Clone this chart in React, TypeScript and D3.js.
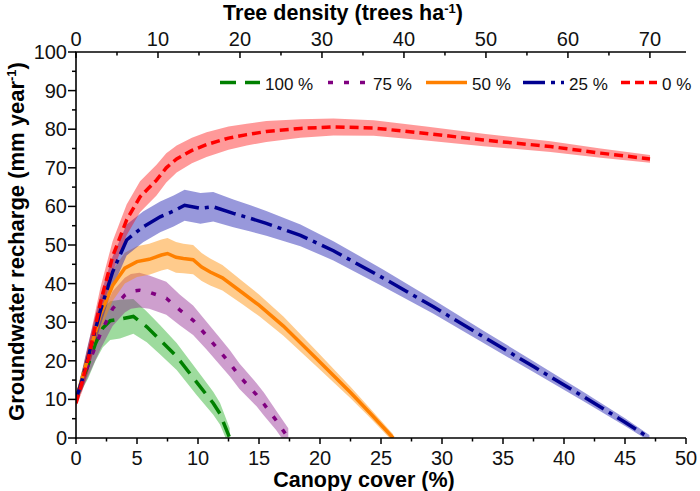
import React from "react";
import * as d3 from "d3";

// ---------- data ----------
const coverG = [0, 0.5, 1, 1.6, 2.2, 2.8, 3.6, 4.7, 5.8, 6.9, 8.25, 9.9, 11.25, 11.8, 12.6];
const valG = [10, 15, 19, 24.5, 28.5, 30.4, 30.8, 31.5, 28.8, 25.4, 21.1, 14.4, 9, 6.3, 0];
const errG = [1, 2.5, 3.5, 4.5, 5, 5, 5, 4.5, 4, 3.8, 3.5, 3.3, 3, 2.8, 2.5];

const coverP = [0, 0.5, 1, 2, 3, 4, 4.5, 5.2, 6, 7.4, 8.5, 9.6, 10.7, 11.8, 12.6, 13.4, 14.8, 15.4, 16.4, 17.4];
const valP = [10, 14.5, 19, 27, 33.5, 37, 38, 38.3, 37.8, 36.2, 33.2, 30.5, 26.5, 22.4, 19.4, 16, 11.2, 8.8, 4.6, 0];
const errP = [1, 2, 3, 4, 4.5, 4.5, 4.5, 4.5, 4.3, 4.3, 4, 3.8, 3.6, 3.5, 3.4, 3.3, 3, 3, 2.5, 2.5];

const coverO = [0, 0.5, 1, 2, 3, 4, 5, 6, 7, 7.5, 8.2, 8.8, 9.6, 10.3, 11, 12, 13.7, 15, 17, 19.7, 22.5, 24, 26];
const valO = [10, 15.5, 21, 32, 39.5, 44, 45.7, 46.3, 47.4, 47.8, 46.8, 46.5, 46.2, 44.3, 43, 41.5, 37.5, 34.4, 29, 20.6, 11.8, 6.8, 0];
const errO = [1, 2, 3, 4, 4, 4, 4, 4, 4, 4, 4, 3.8, 3.8, 3.6, 3.5, 3.3, 3, 2.8, 2.5, 2, 1.5, 1.2, 1];

const coverB = [0, 0.5, 1, 2, 3, 4.15, 5.5, 6.9, 8, 8.9, 10.2, 11.25, 12.9, 14.3, 15.6, 18.4, 21.1, 25.2, 29.3, 33.4, 37.5, 41.6, 45, 47];
const valB = [10, 15, 21, 33, 43, 51.3, 54.7, 57.3, 58.8, 60.3, 59.5, 59.9, 58.2, 56.9, 55.6, 52.5, 48.5, 41.4, 34, 26.2, 18.5, 10.7, 4.1, 0];
const errB = [1, 2.5, 3.5, 4, 4, 4, 4, 4, 4, 4, 4, 3.8, 3.6, 3.4, 3.2, 2.8, 2.5, 2.2, 1.8, 1.6, 1.4, 1.2, 1, 0.8];

const coverR = [0, 0.5, 1, 2, 3, 4.15, 5.25, 6.6, 7.4, 8.25, 9.5, 10.7, 12.5, 14, 15.6, 18.4, 21.1, 24.4, 28.7, 33.4, 38.9, 43, 47.05];
const valR = [9, 14.5, 20.5, 35, 47, 56.5, 62.5, 66.8, 70, 72.3, 74.5, 76, 77.7, 78.6, 79.4, 80.2, 80.6, 80.3, 78.9, 77.2, 75.5, 73.8, 72.3];
const errR = [1, 2.5, 3.5, 4, 4, 4, 4, 4, 3.8, 3.5, 3.3, 3.2, 3, 2.8, 2.7, 2.4, 2.2, 2, 1.8, 1.6, 1.4, 1.2, 1];

const legendLabels = ["100 %", "75 %", "50 %", "25 %", "0 %"];
const xTicks = [0, 5, 10, 15, 20, 25, 30, 35, 40, 45, 50];
const yTicks = [0, 10, 20, 30, 40, 50, 60, 70, 80, 90, 100];
const topTicks = [0, 10, 20, 30, 40, 50, 60, 70];

// ---------- layout ----------
const W = 700, H = 491;
const L = 76, R = 686, T = 52, B = 438;
const FONT = "'Liberation Sans', Arial, Helvetica, sans-serif";

const x = d3.scaleLinear().domain([0, 50]).range([L, R]);
const xTop = d3.scaleLinear().domain([0, 74.4]).range([L, R]);
const y = d3.scaleLinear().domain([0, 100]).range([B, T]);

const series = [
  { cover: coverG, val: valG, err: errG, color: "#008000", fill: "#00a000", op: 0.38, dash: "16,9" },
  { cover: coverP, val: valP, err: errP, color: "#800080", fill: "#8a1a8a", op: 0.42, dash: "5,11" },
  { cover: coverO, val: valO, err: errO, color: "#ff8000", fill: "#ff8c00", op: 0.45, dash: "" },
  { cover: coverB, val: valB, err: errB, color: "#000090", fill: "#1a1ab0", op: 0.45, dash: "22,6,4,6" },
  { cover: coverR, val: valR, err: errR, color: "#ff0000", fill: "#ff0000", op: 0.4, dash: "9,5" },
];

const legendLineX = [220, 328, 426, 523, 621];
const legendLineX2 = [260, 368, 467, 564, 657];

export default function App() {
  const bands = series.map((s, si) => {
    const pts = s.cover.map((c, i) => ({ c, v: s.val[i], e: s.err[i] }));
    const area = d3
      .area<any>()
      .x((d) => x(d.c))
      .y0((d) => y(d.v - d.e))
      .y1((d) => y(d.v + d.e));
    return <path key={"b" + si} d={area(pts) || ""} fill={s.fill} fillOpacity={s.op} stroke="none" />;
  });
  const lines = series.map((s, si) => {
    const pts = s.cover.map((c, i) => ({ c, v: s.val[i] }));
    const line = d3
      .line<any>()
      .x((d) => x(d.c))
      .y((d) => y(d.v));
    return (
      <path
        key={"l" + si}
        d={line(pts) || ""}
        fill="none"
        stroke={s.color}
        strokeWidth={3.5}
        strokeDasharray={s.dash || undefined}
      />
    );
  });

  const minorX = d3.range(2.5, 50, 5);
  const minorY = d3.range(5, 100, 10);
  const minorTop = d3.range(5, 74, 10);

  return (
    <svg width={W} height={H} style={{ position: "absolute", left: 0, top: 0, background: "#fff" }} fontFamily={FONT}>
      <defs>
        <clipPath id="plotclip">
          <rect x={L} y={T} width={R - L} height={B - T} />
        </clipPath>
      </defs>
      <rect x={0} y={0} width={W} height={H} fill="#fff" />
      <g clipPath="url(#plotclip)">
        {bands}
        {lines}
      </g>

      {/* axes lines */}
      <line x1={L} x2={L} y1={T} y2={B + 0.75} stroke="#000" strokeWidth={1.6} />
      <line x1={L - 0.75} x2={R} y1={B} y2={B} stroke="#000" strokeWidth={1.6} />
      <line x1={L - 0.75} x2={R} y1={T} y2={T} stroke="#000" strokeWidth={1.6} />

      {/* bottom ticks */}
      {xTicks.map((t) => (
        <g key={"xt" + t}>
          <line x1={x(t)} x2={x(t)} y1={B} y2={B + 6} stroke="#000" strokeWidth={1.5} />
          <text x={x(t)} y={465} fontSize={20} textAnchor="middle" fill="#111">
            {t}
          </text>
        </g>
      ))}
      {minorX.map((t) => (
        <line key={"xm" + t} x1={x(t)} x2={x(t)} y1={B} y2={B + 3.5} stroke="#000" strokeWidth={1.5} />
      ))}

      {/* left ticks */}
      {yTicks.map((t) => (
        <g key={"yt" + t}>
          <line x1={L - 8} x2={L} y1={y(t)} y2={y(t)} stroke="#000" strokeWidth={1.5} />
          <text x={67} y={y(t) + 7} fontSize={20} textAnchor="end" fill="#111">
            {t}
          </text>
        </g>
      ))}
      {minorY.map((t) => (
        <line key={"ym" + t} x1={L - 4} x2={L} y1={y(t)} y2={y(t)} stroke="#000" strokeWidth={1.5} />
      ))}

      {/* top ticks */}
      {topTicks.map((t) => (
        <g key={"tt" + t}>
          <line x1={xTop(t)} x2={xTop(t)} y1={T} y2={T + 6} stroke="#000" strokeWidth={1.5} />
          <text x={xTop(t)} y={45.5} fontSize={20} textAnchor="middle" fill="#111">
            {t}
          </text>
        </g>
      ))}
      {minorTop.map((t) => (
        <line key={"tm" + t} x1={xTop(t)} x2={xTop(t)} y1={T} y2={T + 3.5} stroke="#000" strokeWidth={1.5} />
      ))}

      {/* titles */}
      <text x={364} y={486.5} fontSize={21.5} fontWeight="bold" textAnchor="middle">
        Canopy cover (%)
      </text>
      <text x={343} y={19.5} fontSize={21.5} fontWeight="bold" textAnchor="middle">
        Tree density (trees ha
        <tspan fontSize={13} dy={-7}>-1</tspan>
        <tspan dy={7}>)</tspan>
      </text>
      <text transform="translate(23.5,241.5) rotate(-90)" fontSize={22} fontWeight="bold" textAnchor="middle">
        Groundwater recharge (mm year
        <tspan fontSize={13} dy={-8}>-1</tspan>
        <tspan dy={8}>)</tspan>
      </text>

      {/* legend */}
      {series.map((s, i) => (
        <g key={"lg" + i}>
          <line
            x1={legendLineX[i]}
            x2={legendLineX2[i]}
            y1={82.5}
            y2={82.5}
            stroke={s.color}
            strokeWidth={3.5}
            strokeDasharray={s.dash || undefined}
          />
          <text x={legendLineX2[i] + 5} y={89.5} fontSize={17} fill="#111">
            {legendLabels[i]}
          </text>
        </g>
      ))}
    </svg>
  );
}
